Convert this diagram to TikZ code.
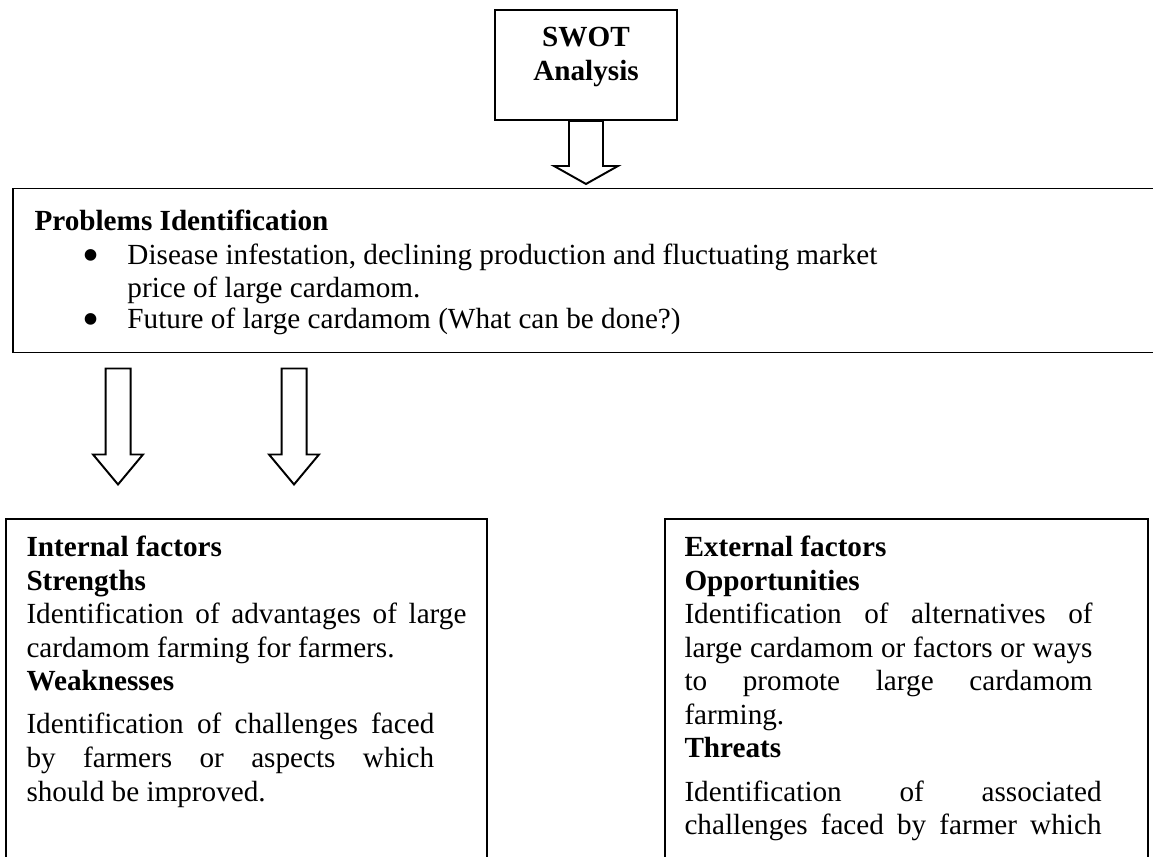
\documentclass[tikz,border=0pt]{standalone}
\usepackage{fontspec}
\setmainfont{Liberation Serif}
\newcommand{\pxu}{0.411pt}
\newcommand{\bigbullet}{\makebox[18.5pt][l]{\smash{\raisebox{-2.9pt}{\fontsize{20pt}{0pt}\selectfont\textbullet}}}}
\hyphenpenalty=10000
\tolerance=10000

\begin{document}
\begin{tikzpicture}[x=\pxu, y=-\pxu,
  box/.style={draw, line width=0.8pt, inner sep=0pt},
  txt/.style={inner sep=0pt, font=\fontsize{12pt}{13.8pt}\selectfont},
  hollow/.style={draw, line width=0.8pt, line join=miter, fill=white}]
  \useasboundingbox (0,0) rectangle (1153,856);
  \clip (0,0) rectangle (1153,856);

  % boxes
  \node[box, minimum width=182*\pxu, minimum height=110*\pxu] (swot) at (586,65) {};
  \node[box, minimum width=1147*\pxu, minimum height=164*\pxu] (prob) at (586.5,270.5) {};
  \node[box, minimum width=481*\pxu, minimum height=381*\pxu] (internal) at (246.5,709.5) {};
  \node[box, minimum width=483*\pxu, minimum height=381*\pxu] (external) at (906.5,709.5) {};

  % texts
  \node[txt, anchor=north, align=center, font=\fontsize{12pt}{13.8pt}\selectfont\bfseries]
    (swottext) at ([shift={(0,13.5)}]swot.north) {\strut SWOT\\Analysis};

  \node[txt, anchor=north west, align=left] (probtext) at ([shift={(22,19)}]prob.north west)
    {\strut\textbf{Problems Identification}\\[0.2pt]
     \hspace*{19.7pt}\bigbullet Disease infestation, declining production and fluctuating market\\[-0.4pt]
     \hspace*{38.2pt}price of large cardamom.\\[-0.8pt]
     \hspace*{19.7pt}\bigbullet Future of large cardamom (What can be done?)};

  \node[txt, anchor=north west, text width=180.8pt, align=justify] (inttext) at ([shift={(21,14.5)}]internal.north west)
    {\strut\textbf{Internal factors}\par
     \textbf{Strengths}\par
     Identification of advantages of large\linebreak cardamom farming for farmers.\par
     \textbf{Weaknesses}\par\vspace{3.9pt}
     {\rightskip=13.2pt Identification of challenges faced\linebreak by farmers or aspects which\linebreak should be improved.\par}};

  \node[txt, anchor=north west, text width=171.4pt, align=justify] (exttext) at ([shift={(20,14.5)}]external.north west)
    {\strut\textbf{External factors}\par
     \textbf{Opportunities}\par
     {\rightskip=3.7pt Identification of alternatives of\linebreak large cardamom or factors or ways\linebreak to promote large cardamom\linebreak farming.\par}
     \textbf{Threats}\par\vspace{3.9pt}
     {\parfillskip=0pt Identification of associated\linebreak challenges faced by farmer which\par}};

  % hollow arrows
  \coordinate (arrowA) at ([shift={(106,15)}]prob.south west);
  \coordinate (arrowB) at ([shift={(282,15)}]prob.south west);

  \draw[hollow] ([shift={(-17,0)}]swot.south) -- ++(0,45) -- ++(-15,0) -- ++(32,18) -- ++(32,-18)
    -- ++(-15,0) -- ++(0,-45) -- cycle;
  \draw[hollow] ([shift={(-12.5,0)}]arrowA) -- ++(0,86) -- ++(-12.5,0) -- ++(25,30) -- ++(25,-30)
    -- ++(-12.5,0) -- ++(0,-86) -- cycle;
  \draw[hollow] ([shift={(-12.5,0)}]arrowB) -- ++(0,86) -- ++(-12.5,0) -- ++(25,30) -- ++(25,-30)
    -- ++(-12.5,0) -- ++(0,-86) -- cycle;
\end{tikzpicture}
\end{document}
